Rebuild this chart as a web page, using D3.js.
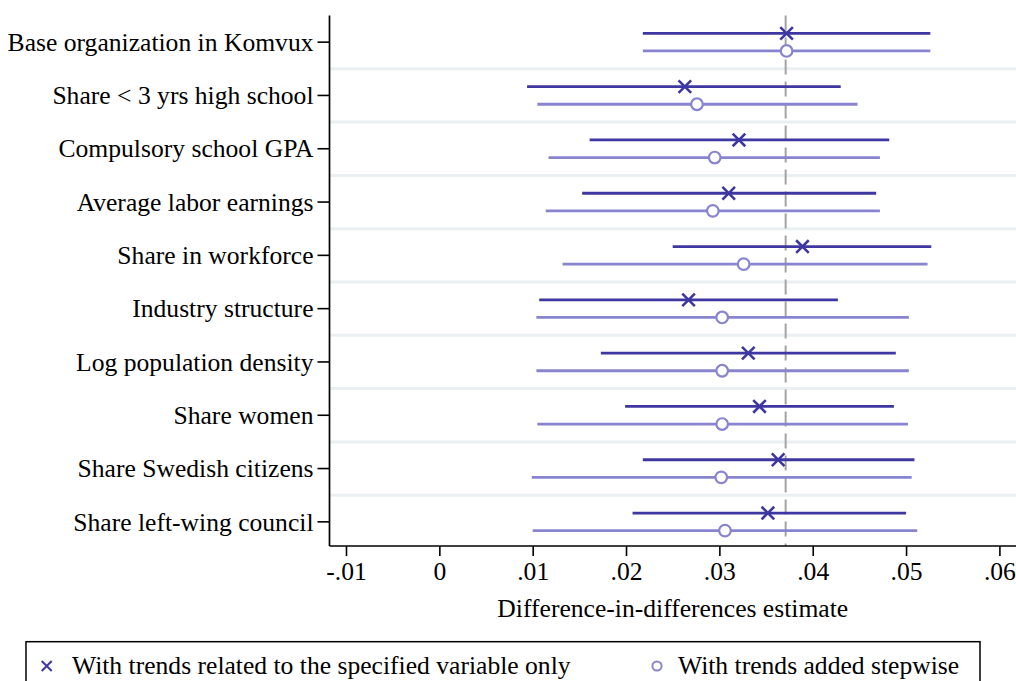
<!DOCTYPE html>
<html>
<head>
<meta charset="utf-8">
<script src="https://cdn.jsdelivr.net/npm/d3@7"></script>
<style>
  body { margin: 0; background: #fff; }
  text { font-family: "Liberation Serif", "Times New Roman", serif; }
</style>
</head>
<body>
<div id="chart"></div>
<script>
const variables = [
  "Base organization in Komvux",
  "Share < 3 yrs high school",
  "Compulsory school GPA",
  "Average labor earnings",
  "Share in workforce",
  "Industry structure",
  "Log population density",
  "Share women",
  "Share Swedish citizens",
  "Share left-wing council"
];

// trends related to the specified variable only (x markers)
const onlyEst = [0.0372, 0.0263, 0.0321, 0.0310, 0.0389, 0.0267, 0.0331, 0.0343, 0.0363, 0.0352];
const onlyLo  = [0.0218, 0.0094, 0.0161, 0.0153, 0.0250, 0.0107, 0.0173, 0.0199, 0.0218, 0.0207];
const onlyHi  = [0.0526, 0.0430, 0.0482, 0.0468, 0.0527, 0.0427, 0.0489, 0.0487, 0.0509, 0.0500];

// trends added stepwise (hollow circles)
const stepEst = [0.0372, 0.0276, 0.0295, 0.0293, 0.0326, 0.0303, 0.0303, 0.0303, 0.0302, 0.0306];
const stepLo  = [0.0218, 0.0105, 0.0117, 0.0114, 0.0132, 0.0104, 0.0104, 0.0105, 0.0099, 0.0100];
const stepHi  = [0.0526, 0.0448, 0.0472, 0.0472, 0.0523, 0.0503, 0.0503, 0.0502, 0.0506, 0.0512];

const refValue = 0.0371;

const xTicks = [-0.01, 0, 0.01, 0.02, 0.03, 0.04, 0.05, 0.06];
const xTickLabels = ["-.01", "0", ".01", ".02", ".03", ".04", ".05", ".06"];

const legendLabels = ["With trends related to the specified variable only", "With trends added stepwise"];
const xTitle = "Difference-in-differences estimate";

const width = 1016, height = 681;
const plot = { left: 329.5, right: 1016, top: 15.5, bottom: 546 };
const darkColor = "#3e37a2", lightColor = "#8984cf";
const fontSize = 25.6;

const svg = d3.select("#chart").append("svg")
  .attr("width", width)
  .attr("height", height);

const x = d3.scaleLinear().domain([-0.01, 0.06]).range([346, 999.4]);
const y = d3.scaleBand().domain(variables).range([plot.top, plot.bottom + 2.5]).paddingInner(0);

const rows = variables.map((v, i) => ({
  name: v,
  onlyEst: onlyEst[i], onlyLo: onlyLo[i], onlyHi: onlyHi[i],
  stepEst: stepEst[i], stepLo: stepLo[i], stepHi: stepHi[i]
}));

// gridlines between rows
svg.append("g").selectAll("line")
  .data(variables.slice(1))
  .enter().append("line")
  .attr("x1", plot.left)
  .attr("x2", plot.right)
  .attr("y1", d => y(d))
  .attr("y2", d => y(d))
  .attr("stroke", "#eaf0f2")
  .attr("stroke-width", 3);

// reference line
svg.append("line")
  .attr("x1", x(refValue)).attr("x2", x(refValue))
  .attr("y1", plot.top).attr("y2", plot.bottom)
  .attr("stroke", "#a3a3a3")
  .attr("stroke-width", 2)
  .attr("stroke-dasharray", "15,7");

const off = 8.8;
const cy = d => y(d.name) + y.bandwidth() / 2;

// confidence intervals
svg.append("g").selectAll("line")
  .data(rows)
  .enter().append("line")
  .attr("x1", d => x(d.onlyLo)).attr("x2", d => x(d.onlyHi))
  .attr("y1", d => cy(d) - off).attr("y2", d => cy(d) - off)
  .attr("stroke", darkColor)
  .attr("stroke-width", 2.8);

svg.append("g").selectAll("line")
  .data(rows)
  .enter().append("line")
  .attr("x1", d => x(d.stepLo)).attr("x2", d => x(d.stepHi))
  .attr("y1", d => cy(d) + off).attr("y2", d => cy(d) + off)
  .attr("stroke", lightColor)
  .attr("stroke-width", 2.8);

// markers
const xPath = s => `M${-s},${-s}L${s},${s}M${-s},${s}L${s},${-s}`;

svg.append("g").selectAll("path")
  .data(rows)
  .enter().append("path")
  .attr("transform", d => `translate(${x(d.onlyEst)},${cy(d) - off})`)
  .attr("d", xPath(6.3))
  .attr("stroke", darkColor)
  .attr("stroke-width", 2.6)
  .attr("fill", "none");

svg.append("g").selectAll("circle")
  .data(rows)
  .enter().append("circle")
  .attr("cx", d => x(d.stepEst))
  .attr("cy", d => cy(d) + off)
  .attr("r", 5.8)
  .attr("fill", "#fff")
  .attr("stroke", lightColor)
  .attr("stroke-width", 2.2);

// x axis
const xAxis = svg.append("g")
  .attr("transform", `translate(0,${plot.bottom})`)
  .call(d3.axisBottom(x)
    .tickValues(xTicks)
    .tickFormat((d, i) => xTickLabels[i])
    .tickSize(10)
    .tickSizeOuter(0));
xAxis.select(".domain").remove();
xAxis.selectAll(".tick line").attr("stroke", "#000").attr("stroke-width", 1.6);
xAxis.selectAll("text")
  .attr("y", 34).attr("dy", 0)
  .attr("font-size", fontSize)
  .attr("font-family", "Liberation Serif")
  .attr("fill", "#000");

// y axis
const yAxis = svg.append("g")
  .attr("transform", `translate(${plot.left},0)`)
  .call(d3.axisLeft(y).tickSize(12).tickPadding(4).tickSizeOuter(0));
yAxis.select(".domain").remove();
yAxis.selectAll(".tick line").attr("stroke", "#000").attr("stroke-width", 1.6);
yAxis.selectAll("text")
  .attr("dy", "0.34em")
  .attr("font-size", fontSize)
  .attr("font-family", "Liberation Serif")
  .attr("fill", "#000");

// axis lines
svg.append("line")
  .attr("x1", plot.left).attr("x2", plot.left)
  .attr("y1", plot.top).attr("y2", plot.bottom)
  .attr("stroke", "#000").attr("stroke-width", 1.7);
svg.append("line")
  .attr("x1", plot.left).attr("x2", plot.right)
  .attr("y1", plot.bottom).attr("y2", plot.bottom)
  .attr("stroke", "#000").attr("stroke-width", 1.7);

// axis title
svg.append("text")
  .attr("x", (plot.left + plot.right) / 2)
  .attr("y", 617)
  .attr("text-anchor", "middle")
  .attr("font-size", fontSize)
  .text(xTitle);

// legend
const legend = svg.append("g");
legend.append("rect")
  .attr("x", 26).attr("y", 641.7)
  .attr("width", 954).attr("height", 60)
  .attr("fill", "#fff")
  .attr("stroke", "#000")
  .attr("stroke-width", 1.5);
legend.append("path")
  .attr("transform", "translate(46.7,666)")
  .attr("d", xPath(5))
  .attr("stroke", darkColor)
  .attr("stroke-width", 2)
  .attr("fill", "none");
legend.append("text")
  .attr("x", 72).attr("y", 674)
  .attr("font-size", fontSize)
  .text(legendLabels[0]);
legend.append("circle")
  .attr("cx", 657).attr("cy", 666)
  .attr("r", 4.6)
  .attr("fill", "#fff")
  .attr("stroke", lightColor)
  .attr("stroke-width", 2);
legend.append("text")
  .attr("x", 678).attr("y", 674)
  .attr("font-size", fontSize)
  .text(legendLabels[1]);
</script>
</body>
</html>
